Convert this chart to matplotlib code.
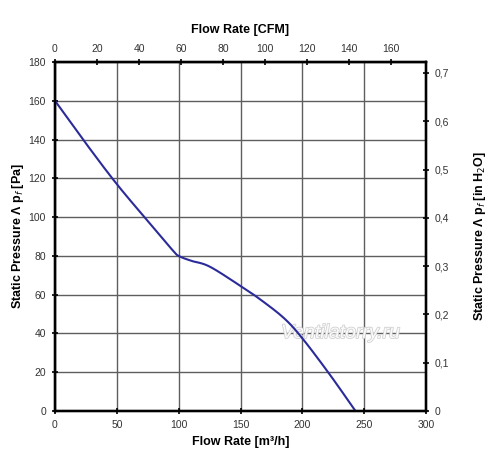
import numpy as np
import matplotlib
matplotlib.use("Agg")
import matplotlib.pyplot as plt
import matplotlib.patheffects as pe

plt.rcParams['font.family'] = ['Liberation Sans', 'DejaVu Sans']

# Curve data (m3/h, Pa)
flow_m3h = [0, 25, 50, 75, 95, 100, 110, 125, 150, 165, 185, 200, 222, 243]
pressure_pa = [160, 138, 117, 98, 83, 80, 77.5, 74.5, 64.5, 58, 48, 37.5, 19, 0]

x_ticks = [0, 50, 100, 150, 200, 250, 300]
y_ticks = [0, 20, 40, 60, 80, 100, 120, 140, 160, 180]
cfm_ticks = [0, 20, 40, 60, 80, 100, 120, 140, 160]
inh2o_ticks = [0, 0.1, 0.2, 0.3, 0.4, 0.5, 0.6, 0.7]

M3H_PER_CFM = 1.699
PA_PER_INH2O = 249.089

fig = plt.figure(figsize=(5.0, 4.73), dpi=100)
ax = fig.add_axes([0.11, 0.131, 0.742, 0.738])

xs = np.array(flow_m3h, dtype=float)
ys = np.array(pressure_pa, dtype=float)

def catmull(xp, yp, n=20):
    px, py = [], []
    P = np.column_stack([xp, yp])
    P = np.vstack([2*P[0]-P[1], P, 2*P[-1]-P[-2]])
    for i in range(1, len(P) - 2):
        p0, p1, p2, p3 = P[i-1], P[i], P[i+1], P[i+2]
        for t in np.linspace(0, 1, n, endpoint=False):
            t2, t3 = t*t, t*t*t
            pt = 0.5*((2*p1) + (-p0+p2)*t + (2*p0-5*p1+4*p2-p3)*t2 + (-p0+3*p1-3*p2+p3)*t3)
            px.append(pt[0]); py.append(pt[1])
    px.append(P[-2][0]); py.append(P[-2][1])
    return np.array(px), np.array(py)

cx, cy = catmull(xs, ys)
ax.plot(cx, cy, color='#2b2b9a', lw=1.5, zorder=3)

ax.set_xlim(0, 300)
ax.set_ylim(0, 180)
ax.set_xticks(x_ticks)
ax.set_yticks(y_ticks)
ax.grid(True, color='#5e5e5e', lw=1.0)
for s in ax.spines.values():
    s.set_linewidth(1.6)
    s.set_color('black')
ax.tick_params(direction='inout', length=5, width=1.2, labelsize=7.5, labelcolor='#333333', pad=4)
ax.set_xlabel('Flow Rate [m³/h]', fontsize=9, fontweight='bold', labelpad=4)
ax.set_ylabel('Static Pressure Λ p$_f$ [Pa]', fontsize=9, fontweight='bold', labelpad=2)

# Right axis (in H2O)
axr = ax.twinx()
axr.set_ylim(0, 180 / PA_PER_INH2O)
axr.set_yticks(inh2o_ticks)
axr.set_yticklabels([('%g' % v).replace('.', ',') for v in inh2o_ticks])
axr.tick_params(direction='inout', length=5, width=1.2, labelsize=7.5, labelcolor='#333333', pad=4)
axr.set_ylabel('Static Pressure Λ p$_f$ [in H$_2$O]', fontsize=9, fontweight='bold', labelpad=16)
for s in axr.spines.values():
    s.set_linewidth(1.6)

# Top axis (CFM)
axt = ax.twiny()
axt.set_xlim(0, 300 / M3H_PER_CFM)
axt.set_xticks(cfm_ticks)
axt.tick_params(direction='inout', length=5, width=1.2, labelsize=7.5, labelcolor='#333333', pad=3)
axt.set_xlabel('Flow Rate [CFM]', fontsize=9, fontweight='bold', labelpad=8)
for s in axt.spines.values():
    s.set_linewidth(1.6)

# watermark
ax.text(231, 40, 'Ventilatorry.ru', fontsize=14, style='italic', color='white', alpha=0.9,
        ha='center', va='center', zorder=2,
        path_effects=[pe.withStroke(linewidth=1.2, foreground='#cccccc')])

fig.savefig('out.png', dpi=100)
